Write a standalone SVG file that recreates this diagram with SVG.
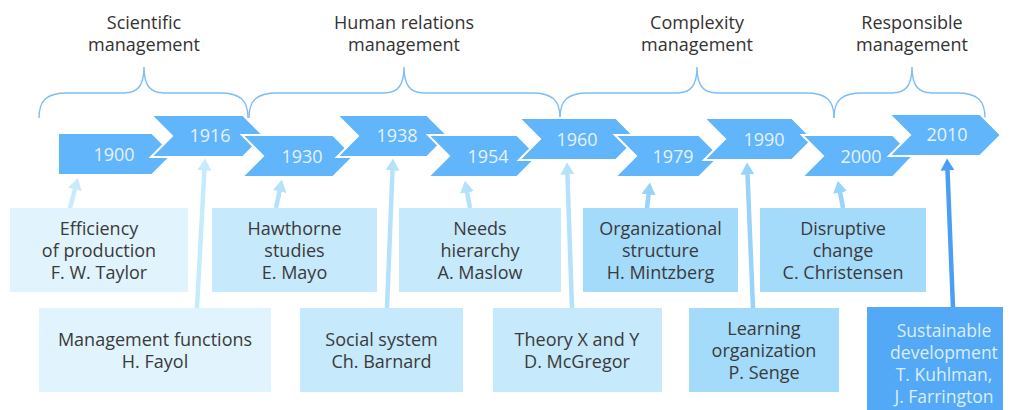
<svg xmlns="http://www.w3.org/2000/svg" width="1015" height="410" viewBox="0 0 1015 410">
<style>
.t{font-family:"Open Sans","Liberation Sans",sans-serif;font-size:18px;fill:#3a3a3a;text-anchor:middle}
.hd{fill:#333}
.yr{font-family:"Open Sans","Liberation Sans",sans-serif;font-size:18px;fill:#e6f3ff;text-anchor:middle}
.ch{fill:#61b5fb;stroke:#fff;stroke-width:2;stroke-linejoin:miter}
.br{fill:none;stroke:#7cbef5;stroke-width:1.4}
.b1{fill:#e1f4fd}.b2{fill:#c6e9fb}.b3{fill:#a4dbfa}.b4{fill:#53a9f6}
.c{fill:none;stroke-width:4.5}
.c1{stroke:#c6ebfc}.c2{stroke:#b5e2fb}.c3{stroke:#98d3f9}.c4{stroke:#4a9ff4}
.w{fill:#dcedfd;font-size:17.5px}
</style>
<defs>
<marker id="m1" viewBox="0 0 12 14" refX="0.5" refY="7" markerWidth="12" markerHeight="14" markerUnits="userSpaceOnUse" orient="auto"><path d="M0,0 L12,7 L0,14 z" fill="#c6ebfc"/></marker>
<marker id="m2" viewBox="0 0 12 14" refX="0.5" refY="7" markerWidth="12" markerHeight="14" markerUnits="userSpaceOnUse" orient="auto"><path d="M0,0 L12,7 L0,14 z" fill="#b5e2fb"/></marker>
<marker id="m3" viewBox="0 0 12 14" refX="0.5" refY="7" markerWidth="12" markerHeight="14" markerUnits="userSpaceOnUse" orient="auto"><path d="M0,0 L12,7 L0,14 z" fill="#98d3f9"/></marker>
<marker id="m4" viewBox="0 0 12 14" refX="0.5" refY="7" markerWidth="12" markerHeight="14" markerUnits="userSpaceOnUse" orient="auto"><path d="M0,0 L12,7 L0,14 z" fill="#4a9ff4"/></marker>
</defs>

<g id="era-scientific">
<path class="br" d="M39,118 C39,100 47,93 67,93 L124,93 C138,93 144,85 144,67 C144,85 150,93 164,93 L220,93 C240,93 248,100 248,118"/>
<text class="t hd" x="144" y="29">Scientific</text>
<text class="t hd" x="144" y="51">management</text>
</g>
<g id="era-human">
<path class="br" d="M249,118 C249,100 257,93 277,93 L384,93 C398,93 404,85 404,67 C404,85 410,93 424,93 L532,93 C552,93 560,100 560,118"/>
<text class="t hd" x="404" y="29">Human relations</text>
<text class="t hd" x="404" y="51">management</text>
</g>
<g id="era-complexity">
<path class="br" d="M560,118 C560,100 568,93 588,93 L677,93 C691,93 697,85 697,67 C697,85 703,93 717,93 L806,93 C826,93 834,100 834,118"/>
<text class="t hd" x="697" y="29">Complexity</text>
<text class="t hd" x="697" y="51">management</text>
</g>
<g id="era-responsible">
<path class="br" d="M834,118 C834,100 842,93 862,93 L892,93 C906,93 912,85 912,67 C912,85 918,93 932,93 L957,93 C977,93 985,100 985,118"/>
<text class="t hd" x="912" y="29">Responsible</text>
<text class="t hd" x="912" y="51">management</text>
</g>

<g id="y1900"><path class="ch" d="M58,133 L152,133 L173,154 L152,175 L58,175 Z"/><text class="yr" x="114" y="161">1900</text></g>
<g id="y1916"><path class="ch" d="M151,115 L243,115 L264,136 L243,157 L151,157 L172,136 Z"/><text class="yr" x="210" y="142">1916</text></g>
<g id="y1930"><path class="ch" d="M242,135 L333,135 L354,156 L333,177 L242,177 L263,156 Z"/><text class="yr" x="302" y="163">1930</text></g>
<g id="y1938"><path class="ch" d="M337,115 L427,115 L448,136 L427,157 L337,157 L358,136 Z"/><text class="yr" x="397" y="142">1938</text></g>
<g id="y1954"><path class="ch" d="M428,135 L517,135 L538,156 L517,177 L428,177 L449,156 Z"/><text class="yr" x="488" y="163">1954</text></g>
<g id="y1960"><path class="ch" d="M519,118 L616,118 L637,139 L616,160 L519,160 L540,139 Z"/><text class="yr" x="577" y="146">1960</text></g>
<g id="y1979"><path class="ch" d="M615,135 L699,135 L720,156 L699,177 L615,177 L636,156 Z"/><text class="yr" x="673" y="163">1979</text></g>
<g id="y1990"><path class="ch" d="M704,118 L792,118 L813,139 L792,160 L704,160 L725,139 Z"/><text class="yr" x="764" y="146">1990</text></g>
<g id="y2000"><path class="ch" d="M802,135 L893,135 L913,156 L893,177 L802,177 L823,156 Z"/><text class="yr" x="861" y="163">2000</text></g>
<g id="y2010"><path class="ch" d="M889,114 L980,114 L1001,135 L980,156 L889,156 L910,135 Z"/><text class="yr" x="947" y="141">2010</text></g>

<g id="connectors">
<path class="c c1" d="M70,208 L75,189" marker-end="url(#m1)"/>
<path class="c c1" d="M197,308 L204.4,170" marker-end="url(#m1)"/>
<path class="c c2" d="M276,208 L279.6,191" marker-end="url(#m2)"/>
<path class="c c2" d="M387,308 L392.5,170" marker-end="url(#m2)"/>
<path class="c c2" d="M470,208 L467,192" marker-end="url(#m2)"/>
<path class="c c2" d="M572,308 L567.4,174" marker-end="url(#m2)"/>
<path class="c c3" d="M647,208 L648.6,194" marker-end="url(#m3)"/>
<path class="c c3" d="M753,308 L747.5,174" marker-end="url(#m3)"/>
<path class="c c3" d="M843,208 L840,192" marker-end="url(#m3)"/>
<path class="c c4" d="M953,308 L947.5,170" marker-end="url(#m4)"/>
</g>

<g id="taylor"><rect class="b1" x="10" y="208" width="178" height="84"/>
<text class="t" x="99" y="235">Efficiency</text><text class="t" x="99" y="257">of production</text><text class="t" x="99" y="279">F. W. Taylor</text></g>
<g id="fayol"><rect class="b1" x="39" y="308" width="232" height="84"/>
<text class="t" x="155" y="346">Management functions</text><text class="t" x="155" y="368">H. Fayol</text></g>
<g id="mayo"><rect class="b2" x="212" y="208" width="165" height="84"/>
<text class="t" x="294.5" y="235">Hawthorne</text><text class="t" x="294.5" y="257">studies</text><text class="t" x="294.5" y="279">E. Mayo</text></g>
<g id="barnard"><rect class="b2" x="300" y="308" width="163" height="84"/>
<text class="t" x="381.5" y="346">Social system</text><text class="t" x="381.5" y="368">Ch. Barnard</text></g>
<g id="maslow"><rect class="b2" x="399" y="208" width="162" height="84"/>
<text class="t" x="480" y="235">Needs</text><text class="t" x="480" y="257">hierarchy</text><text class="t" x="480" y="279">A. Maslow</text></g>
<g id="mcgregor"><rect class="b2" x="493" y="308" width="169" height="84"/>
<text class="t" x="577" y="346">Theory X and Y</text><text class="t" x="577" y="368">D. McGregor</text></g>
<g id="mintzberg"><rect class="b3" x="583" y="208" width="155" height="84"/>
<text class="t" x="660.5" y="235">Organizational</text><text class="t" x="660.5" y="257">structure</text><text class="t" x="660.5" y="279">H. Mintzberg</text></g>
<g id="senge"><rect class="b3" x="689" y="308" width="150" height="84"/>
<text class="t" x="764" y="335">Learning</text><text class="t" x="764" y="357">organization</text><text class="t" x="764" y="379">P. Senge</text></g>
<g id="christensen"><rect class="b3" x="760" y="208" width="166" height="84"/>
<text class="t" x="843" y="235">Disruptive</text><text class="t" x="843" y="257">change</text><text class="t" x="843" y="279">C. Christensen</text></g>
<g id="kuhlman"><rect class="b4" x="867" y="307" width="136" height="103"/>
<text class="t w" x="944" y="337">Sustainable</text><text class="t w" x="944" y="359">development</text><text class="t w" x="944" y="381">T. Kuhlman,</text><text class="t w" x="944" y="403">J. Farrington</text></g>
</svg>
